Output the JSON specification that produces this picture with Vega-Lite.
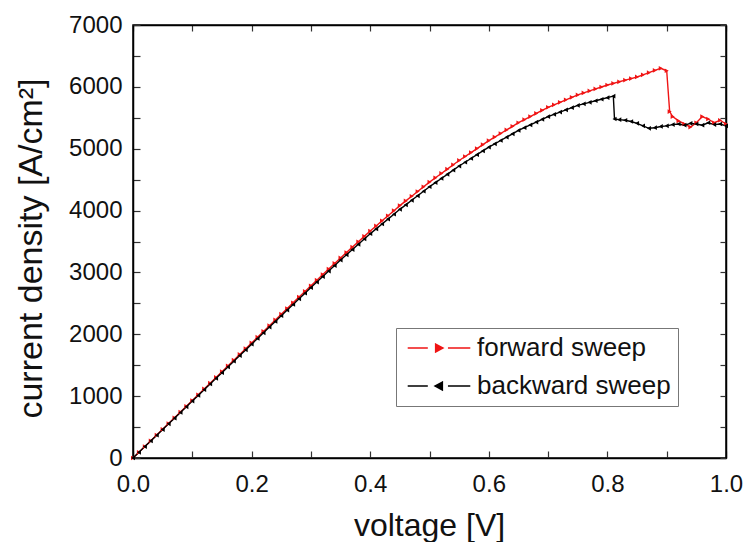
{
  "$schema": "https://vega.github.io/schema/vega-lite/v6.json",
  "width": 593,
  "height": 433,
  "autosize": {"type": "none"},
  "padding": {"left": 133, "top": 25, "right": 19, "bottom": 84},
  "config": {
    "font": "Liberation Sans",
    "view": {"stroke": "#000", "strokeWidth": 1.5},
    "axis": {"grid": false, "domainColor": "#000", "domainWidth": 1.5, "tickColor": "#333", "tickWidth": 1.2, "labelColor": "#111", "titleColor": "#111", "titleFontWeight": "normal", "labelFont": "Liberation Sans", "titleFont": "Liberation Sans"}
  },
  "data": {"values": [
    {"v":0.00,"j":0,"s":"forward sweep"},{"v":0.01,"j":93,"s":"forward sweep"},{"v":0.02,"j":186,"s":"forward sweep"},{"v":0.03,"j":279,"s":"forward sweep"},{"v":0.04,"j":372,"s":"forward sweep"},{"v":0.05,"j":465,"s":"forward sweep"},{"v":0.06,"j":558,"s":"forward sweep"},{"v":0.07,"j":651,"s":"forward sweep"},{"v":0.08,"j":744,"s":"forward sweep"},{"v":0.09,"j":837,"s":"forward sweep"},
    {"v":0.10,"j":930,"s":"forward sweep"},{"v":0.11,"j":1023,"s":"forward sweep"},{"v":0.12,"j":1116,"s":"forward sweep"},{"v":0.13,"j":1209,"s":"forward sweep"},{"v":0.14,"j":1302,"s":"forward sweep"},{"v":0.15,"j":1395,"s":"forward sweep"},{"v":0.16,"j":1488,"s":"forward sweep"},{"v":0.17,"j":1581,"s":"forward sweep"},{"v":0.18,"j":1674,"s":"forward sweep"},{"v":0.19,"j":1767,"s":"forward sweep"},
    {"v":0.20,"j":1860,"s":"forward sweep"},{"v":0.21,"j":1953,"s":"forward sweep"},{"v":0.22,"j":2046,"s":"forward sweep"},{"v":0.23,"j":2139,"s":"forward sweep"},{"v":0.24,"j":2232,"s":"forward sweep"},{"v":0.25,"j":2325,"s":"forward sweep"},{"v":0.26,"j":2417,"s":"forward sweep"},{"v":0.27,"j":2509,"s":"forward sweep"},{"v":0.28,"j":2601,"s":"forward sweep"},{"v":0.29,"j":2693,"s":"forward sweep"},
    {"v":0.30,"j":2785,"s":"forward sweep"},{"v":0.31,"j":2875,"s":"forward sweep"},{"v":0.32,"j":2965,"s":"forward sweep"},{"v":0.33,"j":3055,"s":"forward sweep"},{"v":0.34,"j":3145,"s":"forward sweep"},{"v":0.35,"j":3235,"s":"forward sweep"},{"v":0.36,"j":3322,"s":"forward sweep"},{"v":0.37,"j":3409,"s":"forward sweep"},{"v":0.38,"j":3496,"s":"forward sweep"},{"v":0.39,"j":3583,"s":"forward sweep"},
    {"v":0.40,"j":3670,"s":"forward sweep"},{"v":0.41,"j":3752,"s":"forward sweep"},{"v":0.42,"j":3834,"s":"forward sweep"},{"v":0.43,"j":3916,"s":"forward sweep"},{"v":0.44,"j":3998,"s":"forward sweep"},{"v":0.45,"j":4080,"s":"forward sweep"},{"v":0.46,"j":4156,"s":"forward sweep"},{"v":0.47,"j":4232,"s":"forward sweep"},{"v":0.48,"j":4308,"s":"forward sweep"},{"v":0.49,"j":4384,"s":"forward sweep"},
    {"v":0.50,"j":4460,"s":"forward sweep"},{"v":0.51,"j":4530,"s":"forward sweep"},{"v":0.52,"j":4600,"s":"forward sweep"},{"v":0.53,"j":4670,"s":"forward sweep"},{"v":0.54,"j":4740,"s":"forward sweep"},{"v":0.55,"j":4810,"s":"forward sweep"},{"v":0.56,"j":4874,"s":"forward sweep"},{"v":0.57,"j":4938,"s":"forward sweep"},{"v":0.58,"j":5002,"s":"forward sweep"},{"v":0.59,"j":5066,"s":"forward sweep"},
    {"v":0.60,"j":5130,"s":"forward sweep"},{"v":0.61,"j":5188,"s":"forward sweep"},{"v":0.62,"j":5246,"s":"forward sweep"},{"v":0.63,"j":5304,"s":"forward sweep"},{"v":0.64,"j":5362,"s":"forward sweep"},{"v":0.65,"j":5420,"s":"forward sweep"},{"v":0.66,"j":5470,"s":"forward sweep"},{"v":0.67,"j":5520,"s":"forward sweep"},{"v":0.68,"j":5570,"s":"forward sweep"},{"v":0.69,"j":5620,"s":"forward sweep"},
    {"v":0.70,"j":5670,"s":"forward sweep"},{"v":0.71,"j":5710,"s":"forward sweep"},{"v":0.72,"j":5750,"s":"forward sweep"},{"v":0.73,"j":5790,"s":"forward sweep"},{"v":0.74,"j":5830,"s":"forward sweep"},{"v":0.75,"j":5870,"s":"forward sweep"},{"v":0.76,"j":5902,"s":"forward sweep"},{"v":0.77,"j":5934,"s":"forward sweep"},{"v":0.78,"j":5966,"s":"forward sweep"},{"v":0.79,"j":5998,"s":"forward sweep"},
    {"v":0.80,"j":6030,"s":"forward sweep"},{"v":0.81,"j":6056,"s":"forward sweep"},{"v":0.82,"j":6082,"s":"forward sweep"},{"v":0.83,"j":6108,"s":"forward sweep"},{"v":0.84,"j":6134,"s":"forward sweep"},{"v":0.85,"j":6160,"s":"forward sweep"},{"v":0.86,"j":6195,"s":"forward sweep"},{"v":0.87,"j":6230,"s":"forward sweep"},{"v":0.88,"j":6265,"s":"forward sweep"},{"v":0.89,"j":6300,"s":"forward sweep"},
    {"v":0.90,"j":6260,"s":"forward sweep"},{"v":0.905,"j":5600,"s":"forward sweep"},{"v":0.91,"j":5520,"s":"forward sweep"},{"v":0.92,"j":5450,"s":"forward sweep"},{"v":0.93,"j":5400,"s":"forward sweep"},{"v":0.94,"j":5350,"s":"forward sweep"},{"v":0.95,"j":5420,"s":"forward sweep"},{"v":0.96,"j":5520,"s":"forward sweep"},{"v":0.97,"j":5480,"s":"forward sweep"},{"v":0.98,"j":5420,"s":"forward sweep"},{"v":0.99,"j":5460,"s":"forward sweep"},{"v":1.00,"j":5400,"s":"forward sweep"},

    {"v":0.00,"j":0,"s":"backward sweep"},{"v":0.01,"j":92,"s":"backward sweep"},{"v":0.02,"j":184,"s":"backward sweep"},{"v":0.03,"j":276,"s":"backward sweep"},{"v":0.04,"j":368,"s":"backward sweep"},{"v":0.05,"j":460,"s":"backward sweep"},{"v":0.06,"j":552,"s":"backward sweep"},{"v":0.07,"j":644,"s":"backward sweep"},{"v":0.08,"j":736,"s":"backward sweep"},{"v":0.09,"j":828,"s":"backward sweep"},
    {"v":0.10,"j":920,"s":"backward sweep"},{"v":0.11,"j":1012,"s":"backward sweep"},{"v":0.12,"j":1104,"s":"backward sweep"},{"v":0.13,"j":1196,"s":"backward sweep"},{"v":0.14,"j":1288,"s":"backward sweep"},{"v":0.15,"j":1380,"s":"backward sweep"},{"v":0.16,"j":1472,"s":"backward sweep"},{"v":0.17,"j":1564,"s":"backward sweep"},{"v":0.18,"j":1656,"s":"backward sweep"},{"v":0.19,"j":1748,"s":"backward sweep"},
    {"v":0.20,"j":1840,"s":"backward sweep"},{"v":0.21,"j":1932,"s":"backward sweep"},{"v":0.22,"j":2024,"s":"backward sweep"},{"v":0.23,"j":2116,"s":"backward sweep"},{"v":0.24,"j":2208,"s":"backward sweep"},{"v":0.25,"j":2300,"s":"backward sweep"},{"v":0.26,"j":2391,"s":"backward sweep"},{"v":0.27,"j":2482,"s":"backward sweep"},{"v":0.28,"j":2573,"s":"backward sweep"},{"v":0.29,"j":2664,"s":"backward sweep"},
    {"v":0.30,"j":2755,"s":"backward sweep"},{"v":0.31,"j":2844,"s":"backward sweep"},{"v":0.32,"j":2933,"s":"backward sweep"},{"v":0.33,"j":3022,"s":"backward sweep"},{"v":0.34,"j":3111,"s":"backward sweep"},{"v":0.35,"j":3200,"s":"backward sweep"},{"v":0.36,"j":3285,"s":"backward sweep"},{"v":0.37,"j":3370,"s":"backward sweep"},{"v":0.38,"j":3455,"s":"backward sweep"},{"v":0.39,"j":3540,"s":"backward sweep"},
    {"v":0.40,"j":3625,"s":"backward sweep"},{"v":0.41,"j":3704,"s":"backward sweep"},{"v":0.42,"j":3783,"s":"backward sweep"},{"v":0.43,"j":3862,"s":"backward sweep"},{"v":0.44,"j":3941,"s":"backward sweep"},{"v":0.45,"j":4020,"s":"backward sweep"},{"v":0.46,"j":4093,"s":"backward sweep"},{"v":0.47,"j":4166,"s":"backward sweep"},{"v":0.48,"j":4239,"s":"backward sweep"},{"v":0.49,"j":4312,"s":"backward sweep"},
    {"v":0.50,"j":4385,"s":"backward sweep"},{"v":0.51,"j":4452,"s":"backward sweep"},{"v":0.52,"j":4519,"s":"backward sweep"},{"v":0.53,"j":4586,"s":"backward sweep"},{"v":0.54,"j":4653,"s":"backward sweep"},{"v":0.55,"j":4720,"s":"backward sweep"},{"v":0.56,"j":4781,"s":"backward sweep"},{"v":0.57,"j":4842,"s":"backward sweep"},{"v":0.58,"j":4903,"s":"backward sweep"},{"v":0.59,"j":4964,"s":"backward sweep"},
    {"v":0.60,"j":5025,"s":"backward sweep"},{"v":0.61,"j":5079,"s":"backward sweep"},{"v":0.62,"j":5133,"s":"backward sweep"},{"v":0.63,"j":5187,"s":"backward sweep"},{"v":0.64,"j":5241,"s":"backward sweep"},{"v":0.65,"j":5295,"s":"backward sweep"},{"v":0.66,"j":5340,"s":"backward sweep"},{"v":0.67,"j":5385,"s":"backward sweep"},{"v":0.68,"j":5430,"s":"backward sweep"},{"v":0.69,"j":5475,"s":"backward sweep"},
    {"v":0.70,"j":5520,"s":"backward sweep"},{"v":0.71,"j":5556,"s":"backward sweep"},{"v":0.72,"j":5592,"s":"backward sweep"},{"v":0.73,"j":5628,"s":"backward sweep"},{"v":0.74,"j":5664,"s":"backward sweep"},{"v":0.75,"j":5700,"s":"backward sweep"},{"v":0.76,"j":5725,"s":"backward sweep"},{"v":0.77,"j":5750,"s":"backward sweep"},{"v":0.78,"j":5775,"s":"backward sweep"},{"v":0.79,"j":5800,"s":"backward sweep"},
    {"v":0.80,"j":5825,"s":"backward sweep"},{"v":0.81,"j":5850,"s":"backward sweep"},{"v":0.812,"j":5480,"s":"backward sweep"},{"v":0.82,"j":5470,"s":"backward sweep"},{"v":0.83,"j":5460,"s":"backward sweep"},{"v":0.84,"j":5440,"s":"backward sweep"},{"v":0.85,"j":5410,"s":"backward sweep"},{"v":0.86,"j":5370,"s":"backward sweep"},{"v":0.87,"j":5330,"s":"backward sweep"},{"v":0.88,"j":5340,"s":"backward sweep"},{"v":0.89,"j":5360,"s":"backward sweep"},
    {"v":0.90,"j":5370,"s":"backward sweep"},{"v":0.91,"j":5390,"s":"backward sweep"},{"v":0.92,"j":5400,"s":"backward sweep"},{"v":0.93,"j":5380,"s":"backward sweep"},{"v":0.94,"j":5410,"s":"backward sweep"},{"v":0.95,"j":5400,"s":"backward sweep"},{"v":0.96,"j":5380,"s":"backward sweep"},{"v":0.97,"j":5420,"s":"backward sweep"},{"v":0.98,"j":5390,"s":"backward sweep"},{"v":0.99,"j":5400,"s":"backward sweep"},{"v":1.00,"j":5370,"s":"backward sweep"}
  ]},
  "layer": [
    {
      "mark": {"type": "line", "strokeWidth": 1.4},
      "encoding": {
        "x": {"field": "v", "type": "quantitative", "scale": {"domain": [0, 1], "nice": false},
          "axis": {"orient": "bottom", "title": "voltage [V]", "values": [0,0.1,0.2,0.3,0.4,0.5,0.6,0.7,0.8,0.9,1.0],
            "labelExpr": "round(datum.value*10) % 2 == 0 ? format(datum.value, '.1f') : ''", "labelOverlap": false, "labelFlush": false,
            "tickSize": -7, "labelPadding": 21, "labelFontSize": 24, "titleFontSize": 32,
            "titleX": 296, "titleY": 77, "titleBaseline": "alphabetic", "titleAlign": "center"}},
        "y": {"field": "j", "type": "quantitative", "scale": {"domain": [0, 7000], "nice": false},
          "axis": {"orient": "left", "title": "current density [A/cm²]", "values": [0,500,1000,1500,2000,2500,3000,3500,4000,4500,5000,5500,6000,6500,7000],
            "labelExpr": "datum.value % 1000 == 0 ? format(datum.value, 'd') : ''", "labelOverlap": false, "labelFlush": false,
            "tickSize": -7, "labelPadding": 18, "labelFontSize": 24, "titleFontSize": 34,
            "titleAngle": -90, "titleX": -92, "titleY": 223, "titleBaseline": "alphabetic", "titleAlign": "center"}},
        "color": {"field": "s", "type": "nominal",
          "scale": {"domain": ["forward sweep", "backward sweep"], "range": ["#f01414", "#000000"]},
          "legend": {"orient": "none", "legendX": 263, "legendY": 303, "title": null, "padding": 7,
            "strokeColor": "#777", "fillColor": "#fff", "labelFontSize": 26, "labelColor": "#111", "labelLimit": 0,
            "symbolSize": 500, "symbolOffset": 23, "labelOffset": 25, "rowPadding": 12, "symbolStrokeWidth": 1.5,
            "encode": {"symbols": {"update": {
              "shape": {"signal": "datum.value === 'forward sweep' ? 'M-2.8,0L-1,0M0.8,0L2.8,0M-0.3,-0.35L0.35,0L-0.3,0.35Z' : 'M-2.8,0L-1,0M0.8,0L2.8,0M0.3,-0.35L-0.35,0L0.3,0.35Z'"},
              "fill": {"signal": "datum.value === 'forward sweep' ? '#f01414' : '#000000'"},
              "stroke": {"signal": "datum.value === 'forward sweep' ? '#f01414' : '#000000'"},
              "strokeWidth": {"value": 1.5},
              "opacity": {"value": 1}
            }}}}
        }
      }
    },
    {
      "transform": [{"filter": "datum.s === 'forward sweep'"}],
      "mark": {"type": "point", "filled": true, "size": 22, "opacity": 1, "shape": "triangle-right", "color": "#f01414"},
      "encoding": {
        "x": {"field": "v", "type": "quantitative", "axis": null},
        "y": {"field": "j", "type": "quantitative", "axis": null}
      }
    },
    {
      "transform": [{"filter": "datum.s === 'backward sweep'"}],
      "mark": {"type": "point", "filled": true, "size": 22, "opacity": 1, "shape": "triangle-left", "color": "#000000"},
      "encoding": {
        "x": {"field": "v", "type": "quantitative", "axis": null},
        "y": {"field": "j", "type": "quantitative", "axis": null}
      }
    },
    {
      "mark": {"type": "point", "opacity": 0},
      "encoding": {
        "x": {"field": "v", "type": "quantitative",
          "axis": {"orient": "top", "title": null, "labels": false, "values": [0,0.1,0.2,0.3,0.4,0.5,0.6,0.7,0.8,0.9,1.0], "tickSize": -6}},
        "y": {"field": "j", "type": "quantitative",
          "axis": {"orient": "right", "title": null, "labels": false, "values": [0,500,1000,1500,2000,2500,3000,3500,4000,4500,5000,5500,6000,6500,7000], "tickSize": -6}}
      }
    }
  ],
  "resolve": {"axis": {"x": "independent", "y": "independent"}}
}
